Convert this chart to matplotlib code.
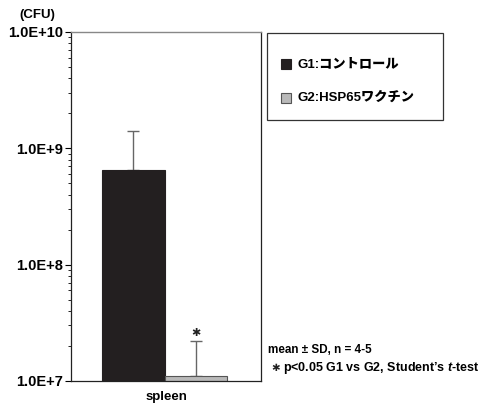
import math
import matplotlib
matplotlib.use('Agg')
import matplotlib.pyplot as plt
from matplotlib.patches import Rectangle
from matplotlib.ticker import LogLocator, FuncFormatter, NullFormatter

plt.rcParams['font.family'] = ['Liberation Sans', 'Noto Sans CJK JP', 'DejaVu Sans']
plt.rcParams['font.weight'] = 'bold'
plt.rcParams['mathtext.fontset'] = 'custom'
plt.rcParams['mathtext.it'] = 'Liberation Sans:italic:bold'
plt.rcParams['mathtext.rm'] = 'Liberation Sans:bold'

# CFU counts in spleen, mean and SD per group
groups = ['G1:コントロール', 'G2:HSP65ワクチン']
means = [6.5e8, 1.1e7]
sds = [7.5e8, 1.1e7]
colors = ['#231f20', '#b9b9b9']
edges = ['#231f20', '#555555']
category = 'spleen'

fig = plt.figure(figsize=(4.85, 4.03), dpi=100)
ax = fig.add_axes([0.1464, 0.0546, 0.392, 0.866])

xs = [-0.5, 0.5]
ax.bar(xs, means, width=1.0, color=colors, edgecolor=edges, linewidth=0.8, zorder=2)
ax.errorbar(xs, means, yerr=[[0, 0], sds], fmt='none', ecolor='#666666',
            elinewidth=1.0, capsize=4, capthick=1.0, zorder=1)

ax.set_yscale('log')
ax.set_ylim(1e7, 1e10)
ax.set_xlim(-1.5, 1.55)
ax.yaxis.set_major_locator(LogLocator(base=10, numticks=10))
ax.yaxis.set_minor_locator(LogLocator(base=10, subs=range(2, 10), numticks=10))
ax.yaxis.set_major_formatter(FuncFormatter(lambda v, p: '1.0E+%d' % round(math.log10(v))))
ax.yaxis.set_minor_formatter(NullFormatter())
ax.tick_params(axis='y', which='major', direction='out', length=4, width=0.8, labelsize=10.5, pad=2)
ax.tick_params(axis='y', which='minor', direction='out', length=2, width=0.6)
ax.set_xticks([])
for lbl in ax.get_yticklabels():
    lbl.set_fontweight('bold')
for side in ['left', 'right', 'bottom']:
    ax.spines[side].set_linewidth(0.9)
    ax.spines[side].set_color('#222222')
ax.spines['top'].set_color('#888888')
ax.spines['top'].set_linewidth(1.0)

# significance mark above G2
ax.text(xs[1], 2.6e7, '✱', ha='center', va='center', fontsize=8,
        family=['DejaVu Sans'], color='#222222')

fig.text(37 / 485, 1 - 15 / 403, '(CFU)', ha='center', va='center', fontsize=9.5, fontweight='bold')
fig.text(166 / 485, 1 - 397 / 403, category, ha='center', va='center', fontsize=9.5, fontweight='bold')

# legend box
fig.patches.append(Rectangle((267 / 485, 1 - 120 / 403), 176 / 485, 87 / 403,
                             transform=fig.transFigure, fill=False,
                             edgecolor='#333333', linewidth=0.9))
for i, (g, c, e) in enumerate(zip(groups, colors, edges)):
    y = 1 - (64 + 34 * i) / 403
    fig.patches.append(Rectangle((281 / 485, y - 5 / 403), 10 / 485, 10 / 403,
                                 transform=fig.transFigure, facecolor=c,
                                 edgecolor=e, linewidth=0.8))
    fig.text(298 / 485, y, g, ha='left', va='center', fontsize=9.5, fontweight='heavy')

fig.text(268 / 485, 1 - 350 / 403, 'mean ± SD, n = 4-5', ha='left', va='center',
         fontsize=8.4, fontweight='bold')
fig.text(271 / 485, 1 - 368 / 403, '✱', ha='left', va='center', fontsize=7.5,
         family=['DejaVu Sans'], color='#222222')
fig.text(283 / 485, 1 - 368 / 403, 'p<0.05 G1 vs G2, Student’s $t$-test', ha='left',
         va='center', fontsize=9, fontweight='bold')

fig.savefig('out.png', dpi=100)
